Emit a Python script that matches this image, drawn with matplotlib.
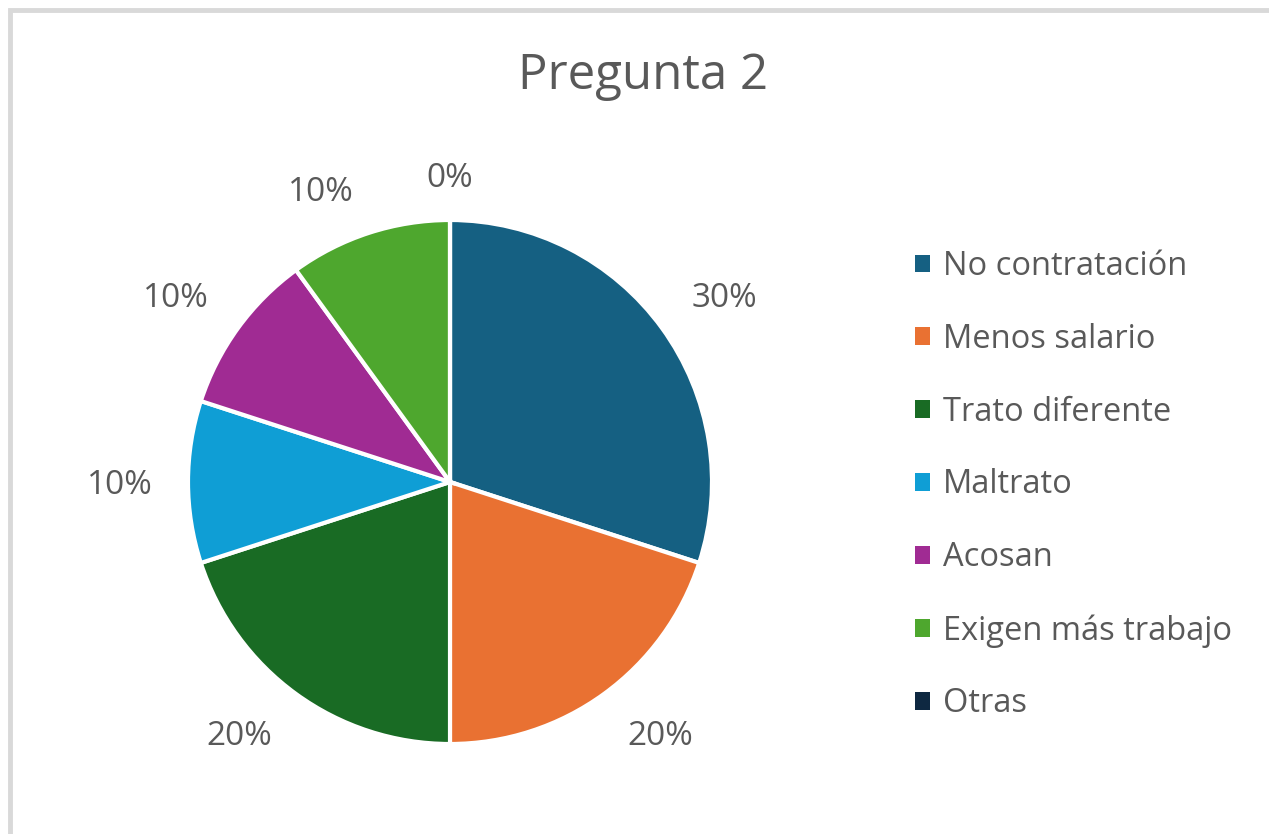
import matplotlib
matplotlib.use("Agg")
import matplotlib.pyplot as plt
from matplotlib.patches import Rectangle
import numpy as np

categories = ["No contratación", "Menos salario", "Trato diferente", "Maltrato",
              "Acosan", "Exigen más trabajo", "Otras"]
values = [30, 20, 20, 10, 10, 10, 0]
colors = ["#156082", "#E97132", "#196B24", "#0F9ED5", "#A02B93", "#4EA72E", "#0E2841"]
title = "Pregunta 2"

plt.rcParams['font.family'] = ['Open Sans', 'DejaVu Sans']
TXT = "#595959"

W, H = 1269, 834
fig = plt.figure(figsize=(W / 100, H / 100), dpi=100)
fig.patch.set_facecolor("white")

# light frame
fig.patches.append(Rectangle((10 / W, -0.1), 1.2, (H - 10) / H + 0.1, transform=fig.transFigure,
                             fill=False, edgecolor="#D9D9D9", linewidth=3.5))

cx, cy, R = 450, 482, 262
ax = fig.add_axes([(cx - R) / W, (H - cy - R) / H, 2 * R / W, 2 * R / H])
wedges, _ = ax.pie(values, colors=colors, startangle=90, counterclock=False,
                   wedgeprops=dict(edgecolor="white", linewidth=3))
ax.set_xlim(-1, 1)
ax.set_ylim(-1, 1)
ax.set_aspect("equal")
ax.axis("off")

renderer = fig.canvas.get_renderer()
total = sum(values)
lab_fs = 24
rg = 1.107
digit_h = lab_fs * 100 / 72 * 0.714
for w, v in zip(wedges, values):
    ang = np.deg2rad((w.theta1 + w.theta2) / 2)
    t = ax.text(0, 0, f"{v / total:.0%}", ha="center", va="baseline",
                fontsize=lab_fs, color=TXT, clip_on=False)
    bb = t.get_window_extent(renderer)
    hw = (bb.width / 2 + 7) / R
    hh = (0.5 * digit_h + 5) / R
    c, s = np.cos(ang), np.sin(ang)
    sx = 0 if abs(c) < 1e-6 else np.sign(c)
    sy = 0 if abs(s) < 1e-6 else np.sign(s)
    t.set_position((rg * c + sx * hw, rg * s + sy * hh - 0.5 * digit_h / R))

fig.text(643 / W, 1 - 89 / H, title, ha="center", va="baseline", fontsize=35.5, color=TXT)

leg = fig.legend(wedges, categories, loc="upper left", bbox_to_anchor=(915 / W, 1 - 250 / H),
                 frameon=False, fontsize=23.5, labelcolor=TXT, handlelength=0.46,
                 handleheight=0.46, handletextpad=0.4, labelspacing=1.22, borderpad=0,
                 borderaxespad=0)
for h in leg.legend_handles:
    h.set_edgecolor("none")

fig.savefig("out.png", dpi=100, facecolor="white")
